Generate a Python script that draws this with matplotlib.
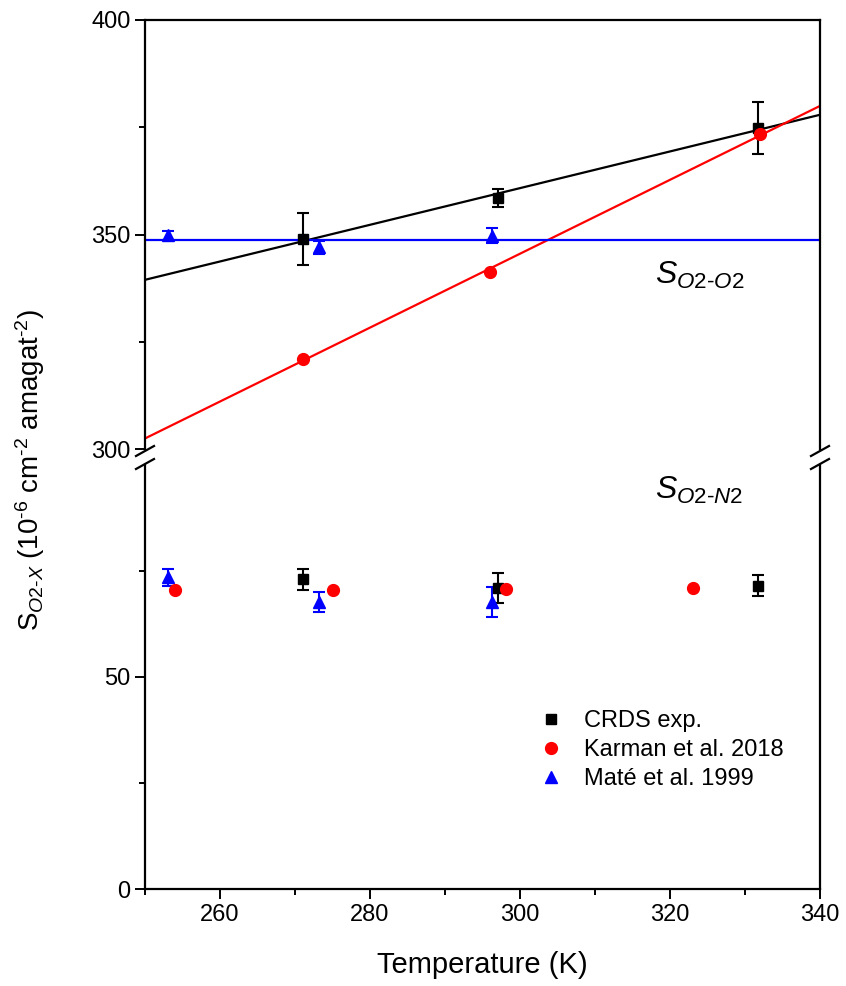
import numpy as np
import matplotlib
matplotlib.use("Agg")
import matplotlib.pyplot as plt
from matplotlib.ticker import FixedLocator, MultipleLocator
from matplotlib.lines import Line2D

plt.rcParams['font.family'] = ['Liberation Sans', 'DejaVu Sans']
plt.rcParams['mathtext.fontset'] = 'custom'
plt.rcParams['mathtext.rm'] = 'Liberation Sans'
plt.rcParams['mathtext.it'] = 'Liberation Sans:italic'
plt.rcParams['mathtext.bf'] = 'Liberation Sans:bold'

# ---- data: O2-O2 ----
crds_o2_T = [271.0, 297.0, 331.7]
crds_o2_S = [349.0, 358.5, 374.8]
crds_o2_err = [6.0, 2.0, 6.0]

karman_o2_T = [271.0, 296.0, 332.0]
karman_o2_S = [321.0, 341.3, 373.4]

mate_o2_T = [253.0, 273.2, 296.2]
mate_o2_S = [349.8, 347.0, 349.7]
mate_o2_err = [1.0, 1.5, 1.7]

# ---- data: O2-N2 ----
crds_n2_T = [271.0, 297.0, 331.7]
crds_n2_S = [73.0, 71.0, 71.5]
crds_n2_err = [2.5, 3.6, 2.5]

karman_n2_T = [254.0, 275.0, 298.1, 323.1]
karman_n2_S = [70.5, 70.5, 70.8, 71.0]

mate_n2_T = [253.0, 273.2, 296.3]
mate_n2_S = [73.5, 67.7, 67.7]
mate_n2_err = [2.0, 2.4, 3.5]

x_range = [250, 340]
x_major = [260, 280, 300, 320, 340]
top_major = [300, 350, 400]
bot_major = [0, 50]

RED, BLUE, BLACK = '#ff0000', '#0000ff', 'black'

W, H = 846, 986
fig = plt.figure(figsize=(W / 100, H / 100), dpi=100)
L, R = 145 / W, 820 / W
ax_top = fig.add_axes([L, 1 - 449 / H, R - L, (449 - 20) / H])
ax_bot = fig.add_axes([L, 1 - 889 / H, R - L, (889 - 465) / H])

msq, mci, mtr = 6.8, 8.5, 8.5
for ax in (ax_top, ax_bot):
    xx = np.array(x_range, dtype=float)
    pc = np.polyfit(crds_o2_T, crds_o2_S, 1)
    pk = np.polyfit(karman_o2_T, karman_o2_S, 1)
    ax.plot(xx, np.polyval(pc, xx), color=BLACK, lw=1.6, zorder=2)
    ax.plot(xx, np.polyval(pk, xx), color=RED, lw=1.6, zorder=2)
    ax.plot(xx, [np.mean(mate_o2_S)] * 2, color=BLUE, lw=1.6, zorder=2)

    ax.errorbar(crds_o2_T, crds_o2_S, yerr=crds_o2_err, fmt='s', color=BLACK,
                ms=msq, capsize=4, elinewidth=1.5, capthick=1.5, zorder=4)
    ax.errorbar(mate_o2_T, mate_o2_S, yerr=mate_o2_err, fmt='^', color=BLUE,
                ms=mtr, capsize=4, elinewidth=1.5, capthick=1.5, zorder=4)
    ax.plot(karman_o2_T, karman_o2_S, 'o', color=RED, ms=mci, zorder=5)

    ax.errorbar(crds_n2_T, crds_n2_S, yerr=crds_n2_err, fmt='s', color=BLACK,
                ms=msq, capsize=4, elinewidth=1.5, capthick=1.5, zorder=4)
    ax.errorbar(mate_n2_T, mate_n2_S, yerr=mate_n2_err, fmt='^', color=BLUE,
                ms=mtr, capsize=4, elinewidth=1.5, capthick=1.5, zorder=4)
    ax.plot(karman_n2_T, karman_n2_S, 'o', color=RED, ms=mci, zorder=5)

    ax.set_xlim(x_range)
    for s in ax.spines.values():
        s.set_linewidth(1.6)
    ax.tick_params(which='both', direction='out', width=1.4, labelsize=17,
                   top=False, right=False)
    ax.tick_params(which='major', length=7)
    ax.tick_params(which='minor', length=4)

ax_top.set_ylim(300, 400)
ax_bot.set_ylim(0, 100)
ax_top.yaxis.set_major_locator(FixedLocator(top_major))
ax_top.yaxis.set_minor_locator(FixedLocator([325, 375]))
ax_bot.yaxis.set_major_locator(FixedLocator(bot_major))
ax_bot.yaxis.set_minor_locator(FixedLocator([25, 75]))
ax_bot.xaxis.set_major_locator(FixedLocator(x_major))
ax_bot.xaxis.set_minor_locator(MultipleLocator(10))
ax_top.spines['bottom'].set_visible(False)
ax_top.tick_params(axis='x', which='both', bottom=False, labelbottom=False)
ax_bot.spines['top'].set_visible(False)

ax_bot.set_xlabel('Temperature (K)', fontsize=21, labelpad=18)

fig.text(0.036, 1 - 470 / H,
         r'$\mathrm{S}_{\mathit{O2}\text{-}\mathit{X}}$ (10$^{\text{-6}}$ cm$^{\text{-2}}$ amagat$^{\text{-2}}$)',
         rotation=90, fontsize=20, ha='center', va='center')

ax_top.text(318, 340.5, r'$\mathit{S}_{\mathit{O2}\text{-}\mathit{O2}}$', fontsize=23,
            ha='left', va='center')
ax_bot.text(318, 94, r'$\mathit{S}_{\mathit{O2}\text{-}\mathit{N2}}$', fontsize=23,
            ha='left', va='center')

# break marks
for xpx in (145, 820):
    for ypx in (451, 464):
        fig.add_artist(Line2D([(xpx - 9) / W, (xpx + 9) / W],
                              [1 - (ypx + 5) / H, 1 - (ypx - 5) / H],
                              color='black', lw=1.6, transform=fig.transFigure))

handles = [
    Line2D([], [], marker='s', ls='none', color=BLACK, ms=msq),
    Line2D([], [], marker='o', ls='none', color=RED, ms=mci),
    Line2D([], [], marker='^', ls='none', color=BLUE, ms=mtr),
]
labels = ['CRDS exp.', 'Karman et al. 2018', 'Maté et al. 1999']
ax_bot.legend(handles, labels, loc='upper left', bbox_to_anchor=(0.573, 0.445),
              frameon=False, fontsize=17, handlelength=0.8, handletextpad=1.0,
              labelspacing=0.3, borderaxespad=0)

fig.savefig('out.png', dpi=100)
